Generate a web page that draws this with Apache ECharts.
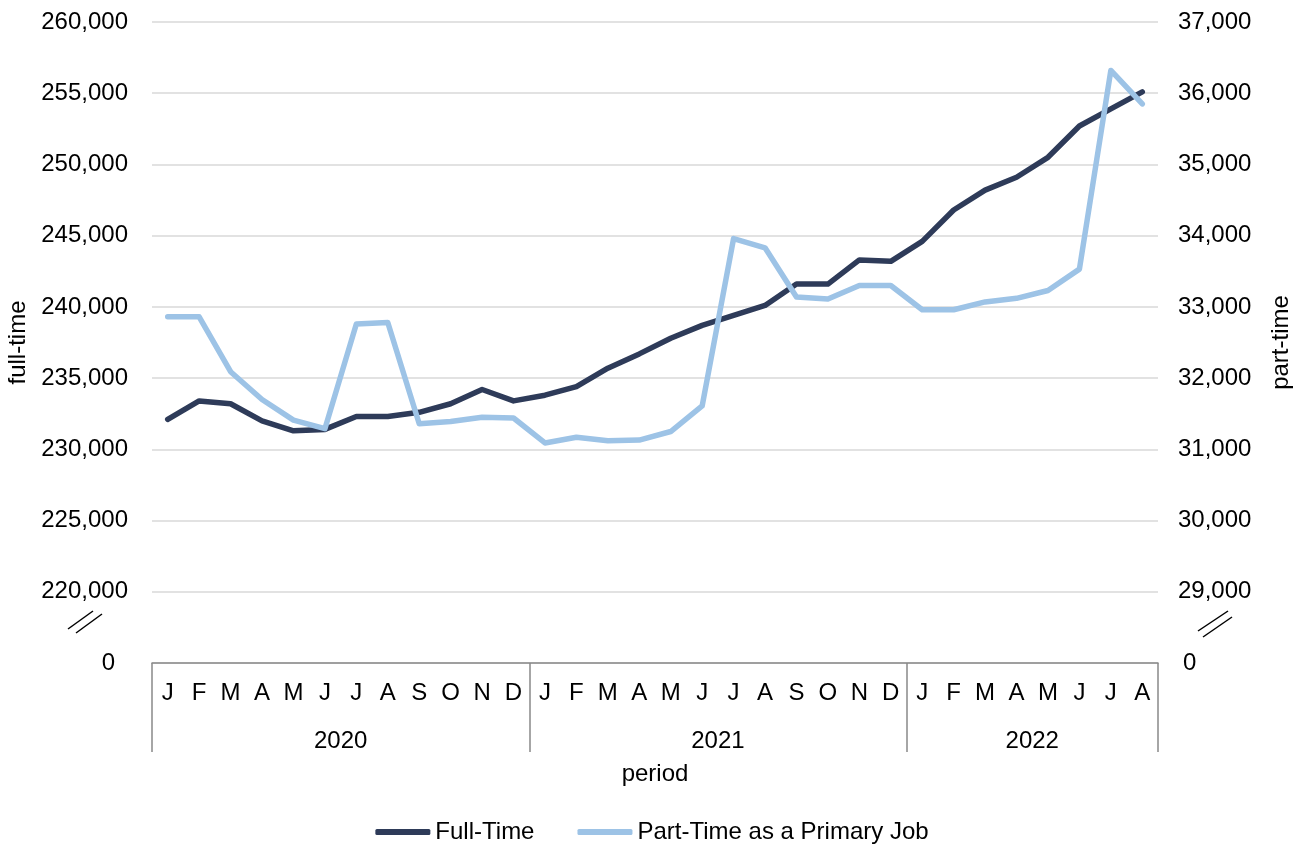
<!DOCTYPE html>
<html>
<head>
<meta charset="utf-8">
<script src="https://cdn.jsdelivr.net/npm/echarts@6/dist/echarts.min.js"></script>
<style>
  html, body { margin: 0; padding: 0; background: #fff; }
  #chart { width: 1304px; height: 846px; }
</style>
</head>
<body>
<div id="chart"></div>
<script>
// Jan 2020 - Aug 2022
const periods = [
  '2020-01', '2020-02', '2020-03', '2020-04', '2020-05', '2020-06', '2020-07', '2020-08', '2020-09', '2020-10', '2020-11', '2020-12',
  '2021-01', '2021-02', '2021-03', '2021-04', '2021-05', '2021-06', '2021-07', '2021-08', '2021-09', '2021-10', '2021-11', '2021-12',
  '2022-01', '2022-02', '2022-03', '2022-04', '2022-05', '2022-06', '2022-07', '2022-08'
]
const monthLetters = ['J', 'F', 'M', 'A', 'M', 'J', 'J', 'A', 'S', 'O', 'N', 'D']
const years = ['2020', '2021', '2022']
const yearLabelPos = [6, 18, 28] // centre of each year block, in months
const yearEdges = [0, 12, 24, 32]

const fullTime = [
  232100, 233400, 233200, 232000, 231300, 231400, 232300, 232300, 232600, 233200, 234200, 233400,
  233800, 234400, 235700, 236700, 237800, 238700, 239400, 240100, 241600, 241600, 243300, 243200,
  244600, 246800, 248200, 249100, 250500, 252700, 253900, 255100
]
const partTime = [
  32860, 32860, 32090, 31700, 31410, 31290, 32760, 32780, 31360, 31390, 31450, 31440,
  31090, 31170, 31120, 31130, 31250, 31610, 33960, 33830, 33140, 33110, 33300, 33300,
  32960, 32960, 33070, 33120, 33230, 33530, 36320, 35850
]

const FONT = 'Liberation Sans, Arial, sans-serif'
const FS = 24
const fmt = v => v.toLocaleString('en-US')

const chart = echarts.init(document.getElementById('chart'))

const option = {
  animation: false,
  textStyle: { fontFamily: FONT, color: '#000' },
  grid: { left: 152, right: 146, top: 22, bottom: 183, outerBoundsMode: 'none', containLabel: false },
  legend: {
    top: 815,
    left: 'center',
    icon: 'roundRect',
    itemWidth: 55,
    itemHeight: 6,
    itemGap: 43,
    textStyle: { fontFamily: FONT, fontSize: FS, color: '#000' },
    data: ['Full-Time', 'Part-Time as a Primary Job']
  },
  xAxis: [
    {
      type: 'category',
      data: periods,
      boundaryGap: true,
      name: 'period',
      nameLocation: 'middle',
      nameGap: 99,
      nameTextStyle: { fontSize: FS, color: '#000' },
      axisLine: { lineStyle: { color: '#898989', width: 1.5 } },
      axisTick: { show: false },
      axisLabel: {
        interval: 0,
        margin: 18,
        fontSize: FS,
        color: '#000',
        formatter: (v, i) => monthLetters[i % 12]
      }
    },
    {
      type: 'value',
      position: 'bottom',
      min: 0,
      max: 32,
      axisLine: { show: false },
      splitLine: { show: false },
      axisTick: {
        show: true,
        inside: false,
        length: 89,
        customValues: yearEdges,
        lineStyle: { color: '#898989', width: 1.5 }
      },
      axisLabel: {
        margin: 66,
        fontSize: FS,
        color: '#000',
        customValues: yearLabelPos,
        formatter: v => years[yearLabelPos.indexOf(v)] || ''
      }
    }
  ],
  yAxis: [
    {
      type: 'value',
      min: 215000,
      max: 260000,
      interval: 5000,
      name: 'full-time',
      nameLocation: 'middle',
      nameGap: 122,
      nameTextStyle: { fontSize: FS, color: '#000' },
      axisLine: { show: false },
      axisTick: { show: false },
      splitLine: { lineStyle: { color: '#d9d9d9', width: 1.5 } },
      axisLabel: {
        margin: 24,
        fontSize: FS,
        color: '#000',
        formatter: v => v === 215000 ? '{z|0}' : fmt(v),
        rich: { z: { fontSize: FS, color: '#000', padding: [0, 13, 0, 0] } }
      }
    },
    {
      type: 'value',
      min: 28000,
      max: 37000,
      interval: 1000,
      name: 'part-time',
      nameLocation: 'middle',
      nameGap: 111,
      nameTextStyle: { fontSize: FS, color: '#000' },
      axisLine: { show: false },
      axisTick: { show: false },
      splitLine: { show: false },
      axisLabel: {
        margin: 20,
        fontSize: FS,
        color: '#000',
        formatter: v => v === 28000 ? '{z|0}' : fmt(v),
        rich: { z: { fontSize: FS, color: '#000', padding: [0, 0, 0, 5] } }
      }
    }
  ],
  series: [
    {
      name: 'Full-Time',
      type: 'line',
      xAxisIndex: 0,
      yAxisIndex: 0,
      data: fullTime,
      symbol: 'none',
      z: 3,
      color: '#2e3b59',
      lineStyle: { width: 5.5, cap: 'round', join: 'round' }
    },
    {
      name: 'Part-Time as a Primary Job',
      type: 'line',
      xAxisIndex: 0,
      yAxisIndex: 1,
      data: partTime,
      symbol: 'none',
      z: 4,
      color: '#9dc3e6',
      lineStyle: { width: 5.5, cap: 'round', join: 'round' }
    }
  ],
  // axis break marks (decoration only)
  graphic: [
    { type: 'line', shape: { x1: 68, y1: 629, x2: 93, y2: 611 }, style: { stroke: '#000', lineWidth: 1.5 } },
    { type: 'line', shape: { x1: 76, y1: 633, x2: 102, y2: 614 }, style: { stroke: '#000', lineWidth: 1.5 } },
    { type: 'line', shape: { x1: 1198, y1: 631, x2: 1228, y2: 611 }, style: { stroke: '#000', lineWidth: 1.5 } },
    { type: 'line', shape: { x1: 1203, y1: 637, x2: 1232, y2: 617 }, style: { stroke: '#000', lineWidth: 1.5 } }
  ]
}

chart.setOption(option)
</script>
</body>
</html>
